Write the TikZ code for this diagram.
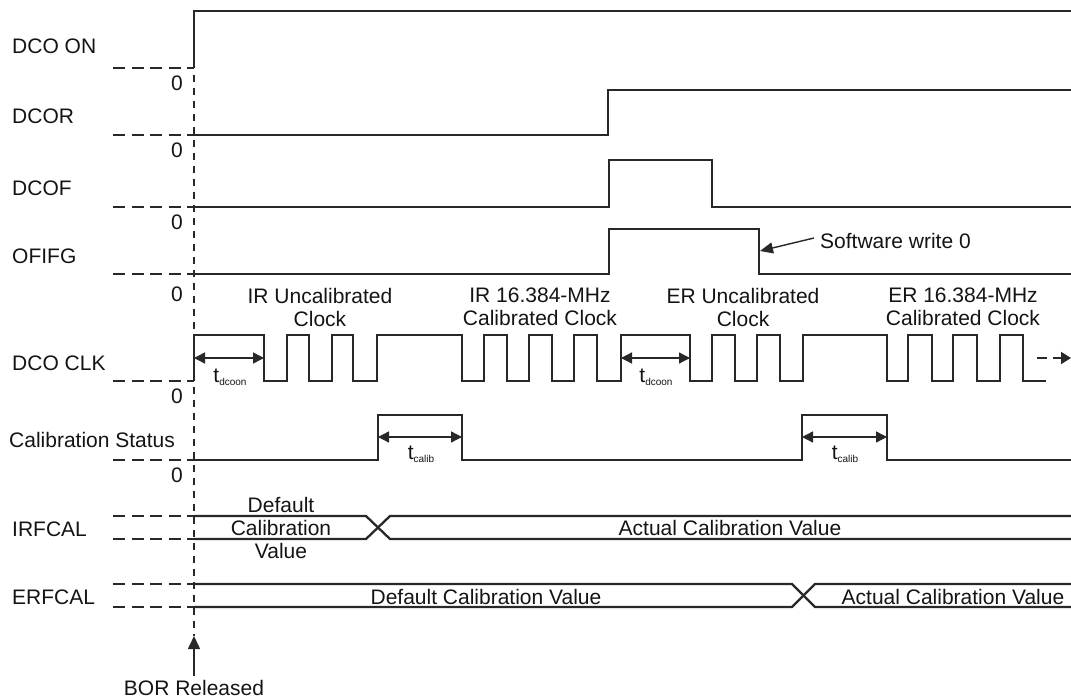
\documentclass[tikz,border=0pt]{standalone}
\usepackage{fontspec}
\setmainfont{Liberation Sans}
\definecolor{LineColor}{RGB}{40,40,40}
\definecolor{TextColor}{RGB}{20,20,20}
\usetikzlibrary{arrows.meta, positioning}
\newcommand{\tsub}[1]{t\raisebox{-3pt}{\fontsize{10}{10}\selectfont #1}}

\begin{document}
\begin{tikzpicture}[x=1pt, y=-1pt,
    every node/.style={text=TextColor, font=\fontsize{21}{23}\selectfont, inner sep=0pt},
    sig/.style={draw=LineColor, line width=2.8pt, line join=miter},
    bus/.style={draw=LineColor, line width=2.3pt},
    zeroline/.style={draw=LineColor, line width=2.1pt, dash pattern=on 12pt off 6.5pt},
    refline/.style={draw=LineColor, line width=1.6pt, dash pattern=on 7pt off 6pt},
    dim/.style={draw=LineColor, line width=1.4pt, {Triangle[length=11pt,width=11pt]}-{Triangle[length=11pt,width=11pt]}},
    sname/.style={anchor=west}]
  \useasboundingbox (0,0) rectangle (1071,700);

  % signal names and zero marks
  \node[sname] (nDcoOn) at (12,46) {DCO ON};
  \node[sname] (nDcor) at (12,116) {DCOR};
  \node[sname] (nDcof) at (12,188) {DCOF};
  \node[sname] (nOfifg) at (12,256) {OFIFG};
  \node[sname] (nClk) at (12,363) {DCO CLK};
  \node[sname] (nCal) at (9,440) {Calibration Status};
  \node[sname] (nIrf) at (12,529) {IRFCAL};
  \node[sname] (nErf) at (12,597) {ERFCAL};
  \foreach \y [count=\i] in {83,150,222,294,396,475}
    \node (zero\i) at (177,\y) {0};
  \foreach \y in {68,135,207,274,381,460,516,539,584,607}
    \draw[zeroline] (113,\y) -- (194,\y);

  % BOR reference line
  \draw[refline] (194,75) -- (194,636);
  \node (bor) at (194,688) {BOR Released};
  \coordinate (borTip) at (194,636);
  \draw[draw=LineColor, line width=1.6pt, -{Triangle[length=13pt,width=12pt]}] (bor.north) ++(0,-4) -- (borTip);

  % DCO ON, DCOR, DCOF, OFIFG
  \draw[sig] (194,68) -- (194,11) -- (1071,11);
  \draw[sig] (194,135) -- (608,135) |- (1071,90);
  \draw[sig] (194,207) -- (609,207) |- (712,160) |- (1071,207);
  \draw[sig] (194,274) -- (609,274) |- (759,229) |- (1071,274);
  \node[anchor=west] (sw) at (820,241) {Software write 0};
  \coordinate (swTip) at (760,251);
  \draw[draw=LineColor, line width=1.4pt, -{Triangle[length=13pt,width=11pt]}] (sw.west) ++(-6,-3) -- (swTip);

  % DCO CLK
  \draw[sig] (194,381) |- (264,335) |- (287,381) |- (309,335) |- (332,381) |- (353,335) |- (377,381)
    |- (462,335) |- (484,381) |- (507,335) |- (529,381) |- (552,335) |- (574,381) |- (597,335)
    |- (621,381) |- (690,335) |- (712,381) |- (735,335) |- (757,381) |- (780,335) |- (803,381)
    |- (887,335) |- (908,381) |- (932,335) |- (953,381) |- (977,335) |- (1000,381) |- (1023,335)
    |- (1046,381);
  \draw[draw=LineColor, line width=2pt, dash pattern=on 10pt off 6pt, -{Triangle[length=10pt,width=12pt]}] (1037,358) -- (1071,358);
  \draw[dim] (194,358) -- (264,358);
  \node (td1) at (230,377) {\tsub{dcoon}};
  \draw[dim] (621,358) -- (690,358);
  \node (td2) at (656,377) {\tsub{dcoon}};
  \node[align=center] (irUn) at (320,307) {IR Uncalibrated\\Clock};
  \node[align=center] (irCal) at (540,307) {IR 16.384-MHz\\Calibrated Clock};
  \node[align=center] (erUn) at (743,307) {ER Uncalibrated\\Clock};
  \node[align=center] (erCal) at (963,307) {ER 16.384-MHz\\Calibrated Clock};

  % Calibration Status
  \draw[sig] (194,460) -- (378,460) |- (462,415) |- (802,460) |- (887,415) |- (1071,460);
  \draw[dim] (378,437) -- (462,437);
  \node (tc1) at (421,454) {\tsub{calib}};
  \draw[dim] (802,437) -- (887,437);
  \node (tc2) at (845,454) {\tsub{calib}};

  % IRFCAL and ERFCAL
  \draw[bus] (194,516) -- (366,516) -- (390,539) -- (1071,539);
  \draw[bus] (194,539) -- (366,539) -- (390,516) -- (1071,516);
  \node[align=center] (irDef) at (281,528) {Default\\Calibration\\Value};
  \node (irAct) at (730,528) {Actual Calibration Value};
  \draw[bus] (194,584) -- (792,584) -- (815,607) -- (1071,607);
  \draw[bus] (194,607) -- (792,607) -- (815,584) -- (1071,584);
  \node (erDef) at (486,597) {Default Calibration Value};
  \node (erAct) at (953,597) {Actual Calibration Value};
\end{tikzpicture}
\end{document}
